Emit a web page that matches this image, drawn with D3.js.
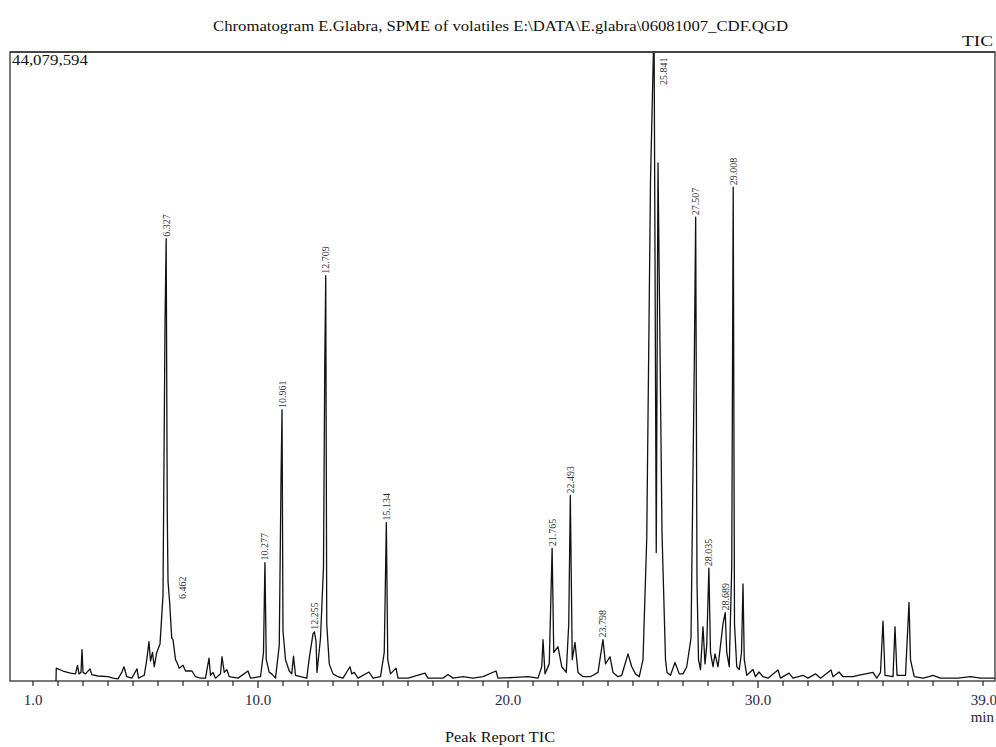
<!DOCTYPE html>
<html>
<head>
<meta charset="utf-8">
<script src="https://cdn.jsdelivr.net/npm/d3@7"></script>
<style>
  body { margin: 0; background: #fff; }
  svg { display: block; }
</style>
</head>
<body>
<svg id="chart" width="996" height="747"></svg>
<script>
// full scale of the TIC window (counts)
const fullScale = 44079594;

// retention time (min) and signal (millions of counts)
const traceTime = [
  1.92, 1.93, 2.2, 2.5, 2.7, 2.78, 2.84, 2.92, 2.96, 3.0, 3.1, 3.28, 3.35, 3.6, 4.0, 4.2, 4.4,
  4.55, 4.64, 4.75, 4.95, 5.16, 5.22, 5.45, 5.55, 5.64, 5.7, 5.78, 5.85, 5.95, 6.08, 6.2, 6.28,
  6.327, 6.37, 6.40, 6.462, 6.55, 6.6, 6.7, 6.76, 6.85, 7.0, 7.1, 7.36, 7.5, 7.7, 7.9, 8.04, 8.1, 8.2,
  8.3, 8.5, 8.56, 8.65, 8.75, 8.85, 9.2, 9.6, 9.7, 10.1, 10.22, 10.277, 10.33, 10.45, 10.55, 10.7,
  10.85, 10.92, 10.961, 11.0, 11.1, 11.25, 11.35, 11.42, 11.5, 11.7, 11.95, 12.05, 12.2, 12.255,
  12.32, 12.36, 12.5, 12.62, 12.67, 12.709, 12.75, 12.85, 13.0, 13.2, 13.4, 13.68, 13.75, 13.85, 14.0,
  14.44, 14.6, 14.9, 15.05, 15.134, 15.19, 15.3, 15.52, 15.6, 16.0, 16.68, 16.8, 17.4, 17.6, 17.8,
  18.2, 18.6, 19.0, 19.52, 19.6, 20.3, 20.8, 21.2, 21.35, 21.4, 21.48, 21.65, 21.765, 21.83, 22.0,
  22.15, 22.33, 22.43, 22.493, 22.57, 22.68, 22.8, 23.0, 23.3, 23.6, 23.798, 23.9, 24.08, 24.2, 24.4,
  24.55, 24.8, 24.95, 25.1, 25.25, 25.4, 25.55, 25.7, 25.841, 25.93, 26.0, 26.16, 26.3, 26.36,
  26.5, 26.68, 26.85, 27.0, 27.15, 27.32, 27.45, 27.507, 27.56, 27.62, 27.7, 27.8, 27.88, 27.95,
  28.035, 28.1, 28.2, 28.28, 28.4, 28.5, 28.6, 28.689, 28.75, 28.85, 28.95, 29.008, 29.06, 29.15,
  29.25, 29.34, 29.4, 29.45, 29.55, 29.8, 29.9, 30.04, 30.2, 30.4, 30.8, 30.9, 31.24, 31.4, 31.8,
  32.0, 32.3, 32.5, 32.92, 33.0, 33.24, 33.4, 33.8, 34.0, 34.6, 34.75, 34.9, 35.0, 35.08, 35.4,
  35.48, 35.56, 35.9, 36.04, 36.1, 36.16, 36.25, 36.6, 36.84, 37.0, 37.3, 38.0, 38.5, 38.9, 39.48
];
const traceSignal = [
  0.0, 0.9, 0.7, 0.55, 0.5, 1.1, 0.5, 0.6, 2.2, 0.6, 0.5, 0.85, 0.45, 0.35, 0.3, 0.2, 0.15,
  0.6, 1.0, 0.3, 0.2, 0.85, 0.2, 0.4, 1.5, 2.75, 1.4, 2.0, 1.0, 2.0, 2.6, 6.0, 25.0,
  31.0, 12.0, 7.0, 5.6, 3.0, 2.9, 1.5, 1.3, 0.9, 1.1, 0.7, 0.7, 0.3, 0.2, 0.2, 1.6, 0.4, 0.6,
  0.2, 0.5, 1.7, 0.6, 0.8, 0.3, 0.2, 0.7, 0.2, 0.3, 2.0, 8.3, 1.5, 0.6, 0.5, 0.2,
  2.5, 14.0, 19.0, 3.5, 1.5, 0.7, 0.5, 1.75, 0.4, 0.3, 0.2, 1.6, 3.3, 3.45,
  2.8, 0.6, 3.0, 8.0, 22.0, 28.4, 4.0, 1.2, 0.5, 0.3, 0.2, 1.0, 0.5, 0.6, 0.2,
  0.63, 0.2, 0.3, 2.0, 11.1, 1.5, 0.5, 0.9, 0.2, 0.2, 0.55, 0.2, 0.2, 0.45, 0.2,
  0.3, 0.2, 0.3, 0.7, 0.2, 0.25, 0.3, 0.2, 1.0, 2.9, 0.5, 1.2, 9.3, 2.0, 2.4,
  1.0, 0.6, 4.0, 13.0, 1.5, 2.7, 0.6, 0.3, 0.3, 0.6, 2.9, 1.2, 1.7, 0.6, 0.3,
  0.4, 1.9, 1.0, 0.5, 0.3, 1.5, 10.0, 35.0, 46.0, 9.0, 36.3, 10.4, 1.5, 0.6,
  0.4, 1.3, 0.5, 0.5, 1.0, 3.0, 22.0, 32.5, 6.9, 1.5, 0.8, 3.8, 1.2, 2.5,
  7.9, 2.0, 1.0, 1.9, 1.0, 2.5, 4.0, 4.8, 2.0, 1.0, 8.0, 34.6, 4.0, 1.0,
  0.8, 2.0, 6.8, 1.5, 0.4, 0.8, 0.3, 0.63, 0.3, 0.2, 0.77, 0.2, 0.55, 0.2, 0.4,
  0.2, 0.5, 0.2, 0.77, 0.3, 0.63, 0.3, 0.3, 0.4, 0.6, 0.2, 0.6, 4.2, 0.4, 0.3,
  3.8, 0.4, 0.4, 5.5, 1.5, 1.0, 0.3, 0.2, 0.3, 0.4, 0.2, 0.2, 0.3, 0.2, 0.2
];

// labelled peaks
const peakTimes = [6.327, 6.462, 10.277, 10.961, 12.255, 12.709, 15.134, 21.765, 22.493,
  23.798, 25.841, 27.507, 28.035, 28.689, 29.008];

// x axis
const tickLabels = ["1.0", "10.0", "20.0", "30.0", "39.0"];
const minorTicks = d3.range(1, 40);

const svg = d3.select("#chart");
const serif = "'Liberation Serif', 'Times New Roman', serif";

const plotLeft = 10, plotRight = 995, plotTop = 52, plotBottom = 681;

const x = d3.scaleLinear().domain([0.08, 39.48]).range([plotLeft, plotRight]);
const y = d3.scaleLinear().domain([0, fullScale / 1e6]).range([plotBottom, plotTop]);

svg.append("defs").append("clipPath")
  .attr("id", "plotclip")
  .append("rect")
  .attr("x", plotLeft).attr("y", plotTop)
  .attr("width", plotRight - plotLeft).attr("height", plotBottom - plotTop);

// titles
svg.append("text")
  .attr("x", 213).attr("y", 31)
  .attr("textLength", 575).attr("lengthAdjust", "spacingAndGlyphs")
  .style("font-family", serif).style("font-size", "14px").style("fill", "#111")
  .text("Chromatogram E.Glabra, SPME of volatiles E:\\DATA\\E.glabra\\06081007_CDF.QGD");

svg.append("text")
  .attr("x", 962).attr("y", 46)
  .attr("textLength", 31).attr("lengthAdjust", "spacingAndGlyphs")
  .style("font-family", serif).style("font-size", "14px").style("fill", "#111")
  .text("TIC");

svg.append("text")
  .attr("x", 445).attr("y", 742)
  .attr("textLength", 110).attr("lengthAdjust", "spacingAndGlyphs")
  .style("font-family", serif).style("font-size", "14px").style("fill", "#111")
  .text("Peak Report TIC");

// trace
const line = d3.line()
  .x((d, i) => x(traceTime[i]))
  .y(d => y(d));

svg.append("g")
  .attr("clip-path", "url(#plotclip)")
  .append("path")
  .datum(traceSignal)
  .attr("d", line)
  .attr("fill", "none")
  .attr("stroke", "#111")
  .attr("stroke-width", 1.3)
  .attr("stroke-linejoin", "round");

// frame
svg.append("rect")
  .attr("x", plotLeft).attr("y", plotTop)
  .attr("width", plotRight - plotLeft).attr("height", plotBottom - plotTop)
  .attr("fill", "none")
  .attr("stroke", "#222")
  .attr("stroke-width", 1.2);
svg.append("line")
  .attr("x1", plotLeft).attr("x2", plotRight)
  .attr("y1", plotTop).attr("y2", plotTop)
  .attr("stroke", "#444").attr("stroke-width", 2);

// full scale label
svg.append("text")
  .attr("x", 12).attr("y", 65)
  .attr("textLength", 76).attr("lengthAdjust", "spacingAndGlyphs")
  .style("font-family", serif).style("font-size", "14px").style("fill", "#111")
  .text(d3.format(",")(fullScale));

// x axis ticks
const axis = svg.append("g");
axis.selectAll("line.minor")
  .data(minorTicks)
  .enter()
  .append("line")
  .attr("x1", d => x(d)).attr("x2", d => x(d))
  .attr("y1", plotBottom).attr("y2", d => plotBottom + (d % 10 === 0 ? 7 : 5))
  .attr("stroke", "#222").attr("stroke-width", 1.2);

axis.selectAll("text.tick")
  .data(tickLabels)
  .enter()
  .append("text")
  .attr("x", d => x(+d))
  .attr("y", 705)
  .attr("text-anchor", d => d === "39.0" ? "end" : "middle")
  .attr("dx", d => d === "39.0" ? 14 : 0)
  .style("font-family", serif).style("font-size", "15px").style("fill", "#2a2340")
  .text(d => d);

svg.append("text")
  .attr("x", 994).attr("y", 722)
  .attr("text-anchor", "end")
  .style("font-family", serif).style("font-size", "15px").style("fill", "#2a2340")
  .text("min");

// peak labels
const labelNudge = { "6.462": 13 };
const peaks = peakTimes.map(t => {
  const i = traceTime.indexOf(t);
  return { t: t, v: traceSignal[i], label: d3.format(".3f")(t) };
});

svg.append("g")
  .attr("clip-path", "url(#plotclip)")
  .selectAll("text")
  .data(peaks)
  .enter()
  .append("text")
  .attr("transform", d => {
    const over = d.v > fullScale / 1e6;
    const px = x(d.t) + 3.5 + (over ? 9 : 0) + (labelNudge[d.label] || 0);
    const py = over ? plotTop + 33 : y(d.v) - 2;
    return `translate(${px},${py}) rotate(-90)`;
  })
  .style("font-family", serif).style("font-size", "10px").style("fill", "#333")
  .text(d => d.label);
</script>
</body>
</html>
